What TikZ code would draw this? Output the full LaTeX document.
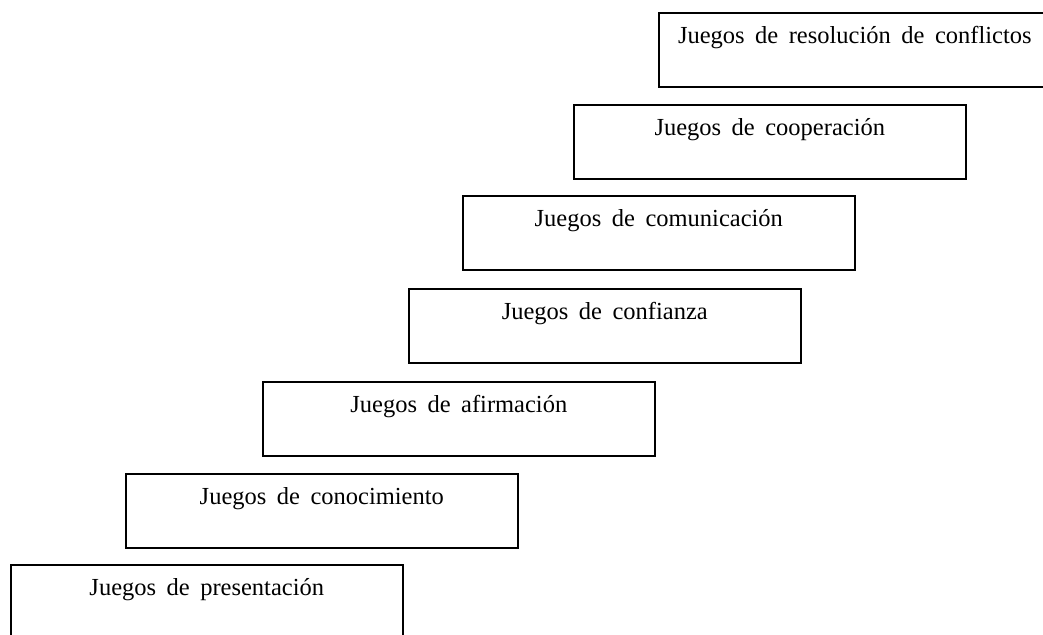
\documentclass[tikz,border=0pt]{standalone}
\usepackage{fontspec}
\setmainfont{Liberation Serif}
\newcommand{\juegofont}{\fontsize{24.5}{28}\selectfont\spaceskip=10.5pt\relax}
\tikzset{
  juego/.style={draw, line width=1.6pt, anchor=north west,
    minimum width=392pt, inner xsep=0pt, inner ysep=0pt,
    text height=31pt, text depth=43pt, font=\juegofont}
}
\begin{document}
\begin{tikzpicture}[x=1pt,y=-1pt]
\useasboundingbox (0,0) rectangle (1043,634);
\clip (0,0) rectangle (1043,634);
% Escalera de juegos, de abajo hacia arriba
\node[juego] (presentacion) at (10,564) {Juegos de presentación};
\node[juego] (conocimiento) at (125,473) {Juegos de conocimiento};
\node[juego] (afirmacion) at (262,381) {Juegos de afirmación};
\node[juego] (confianza) at (408,288) {Juegos de confianza};
\node[juego] (comunicacion) at (462,195) {Juegos de comunicación};
\node[juego] (cooperacion) at (573,104) {Juegos de cooperación};
\node[juego] (conflictos) at (658,12) {Juegos de resolución de conflictos};
\end{tikzpicture}
\end{document}
